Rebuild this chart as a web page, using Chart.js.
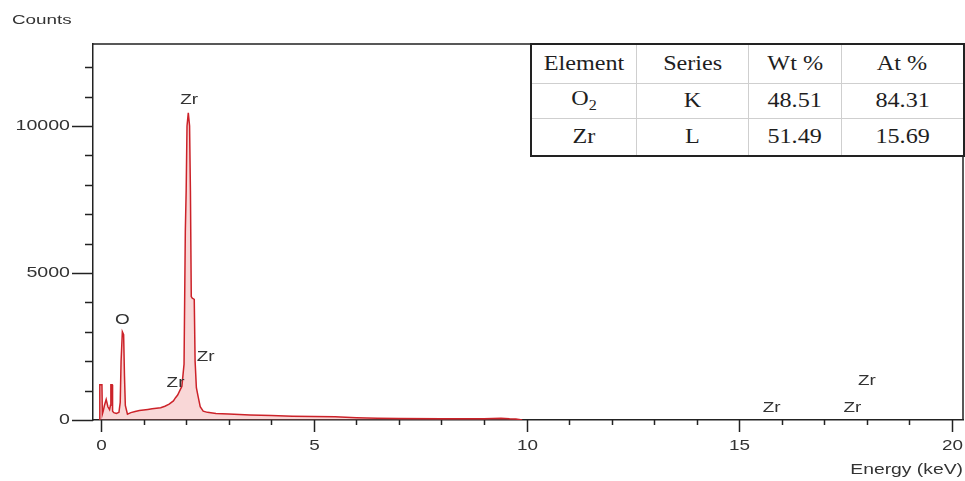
<!DOCTYPE html>
<html>
<head>
<meta charset="utf-8">
<script src="https://cdn.jsdelivr.net/npm/chart.js@4"></script>
<style>
    body { margin: 0; background: #fff; }
    #wrap { position: relative; width: 965px; height: 481px; }
    #resultTable {
        position: absolute; left: 530px; top: 43px;
        border-collapse: collapse; background: #fff;
        font-family: 'Liberation Serif', 'Times New Roman', serif;
        font-size: 21px; color: #1e1e1e;
        border: 2px solid #222;
    }
    #resultTable td { border: 1px solid #cfcfcf; text-align: center; padding: 0; }
    #resultTable span { display: inline-block; transform: scaleX(1.15); }
    #resultTable sub { font-size: 14px; }
</style>
</head>
<body>
<div id="wrap">
    <canvas id="myChart" width="965" height="481"></canvas>
    <table id="resultTable"></table>
</div>
<script>
// Espectro EDS (energía en keV, cuentas)
const energy = [
    -0.04, -0.03, 0.02, 0.03, 0.05, 0.08, 0.12, 0.16, 0.20, 0.22, 0.23, 0.26, 0.27, 0.30,
    0.36, 0.42, 0.45, 0.47, 0.50, 0.53, 0.55, 0.57, 0.62, 0.70, 0.80, 0.90, 1.00,
    1.10, 1.20, 1.30, 1.40, 1.50, 1.60, 1.70, 1.75, 1.80, 1.85, 1.90, 1.95,
    1.98, 2.00, 2.02, 2.05, 2.08, 2.10, 2.12, 2.14, 2.19, 2.21, 2.24, 2.28,
    2.33, 2.40, 2.50, 2.70, 3.00, 3.50, 4.00, 4.50, 5.00, 5.50, 6.00, 6.50,
    7.00, 8.00, 9.00, 9.40, 9.60, 9.75, 9.90
]
const counts = [
    0, 1200, 1200, 200, 300, 500, 700, 450, 350, 500, 1200, 1200, 300, 250,
    220, 260, 600, 2000, 3000, 2900, 1500, 500, 200, 250, 290, 320, 340,
    360, 380, 400, 420, 470, 540, 650, 760, 850, 1000, 1150, 1900,
    6400, 7800, 10000, 10450, 10000, 7800, 4200, 4150, 4100, 2000, 1100, 800,
    450, 300, 260, 220, 200, 170, 150, 130, 120, 110, 80, 60,
    50, 40, 45, 60, 40, 30, 0
]

// Etiquetas de picos
const peakNames = ['Zr', 'O', 'Zr', 'Zr', 'Zr', 'Zr', 'Zr']
const peakEnergy = [2.07, 0.50, 1.75, 2.46, 15.76, 17.66, 18.0]
const peakCounts = [10880, 3400, 1260, 2140, 410, 410, 1310]

// Tabla de resultados
const tableHead = ['Element', 'Series', 'Wt %', 'At %']
const tableElements = ['O<sub>2</sub>', 'Zr']
const tableSeries = ['K', 'L']
const tableWt = ['48.51', '51.49']
const tableAt = ['84.31', '15.69']

// Ejes
const xMin = -0.19
const xMax = 20.26
const yMax = 12790
const yTickValues = [0, 1000, 2000, 3000, 4000, 5000, 6000, 7000, 8000, 9000, 10000, 11000, 12000]

const table = document.getElementById('resultTable')
const colWidths = [105, 112, 93, 123]
const rowHeights = [39, 35, 38]
const rows = [tableHead]
tableElements.forEach((el, i) => rows.push([el, tableSeries[i], tableWt[i], tableAt[i]]))
rows.forEach((row, r) => {
    const tr = document.createElement('tr')
    tr.style.height = rowHeights[r] + 'px'
    row.forEach((cell, c) => {
        const td = document.createElement('td')
        td.style.width = colWidths[c] + 'px'
        td.innerHTML = `<span>${cell}</span>`
        tr.appendChild(td)
    })
    table.appendChild(tr)
})

// Texto estirado en horizontal, como en la imagen original
function wideText(ctx, text, x, y, align, stretch) {
    ctx.save()
    ctx.translate(x, y)
    ctx.scale(stretch, 1)
    ctx.textAlign = align
    ctx.fillText(text, 0, 0)
    ctx.restore()
}

// Plugin: marcas de los ejes, etiquetas y títulos
const extrasPlugin = {
    id: 'extras',
    afterDraw(chart) {
        const { ctx, chartArea, scales } = chart
        const xs = scales.x
        const ys = scales.y
        ctx.save()
        // marco superior y derecho
        ctx.strokeStyle = '#222'
        ctx.lineWidth = 1.5
        ctx.beginPath()
        ctx.moveTo(chartArea.left, chartArea.top)
        ctx.lineTo(chartArea.right, chartArea.top)
        ctx.lineTo(chartArea.right, chartArea.bottom)
        ctx.stroke()

        ctx.fillStyle = '#333'
        ctx.font = '14px "Liberation Sans", Arial, sans-serif'
        ctx.textBaseline = 'middle'

        // eje x
        xs.ticks.forEach(t => {
            const px = Math.round(xs.getPixelForValue(t.value)) + 0.5
            const major = t.value % 5 === 0
            ctx.beginPath()
            ctx.moveTo(px, chartArea.bottom)
            ctx.lineTo(px, chartArea.bottom + (major ? 12 : 5))
            ctx.stroke()
            if (major) wideText(ctx, String(t.value), px, chartArea.bottom + 26, 'center', 1.35)
        })
        // eje y
        ys.ticks.forEach(t => {
            const py = Math.round(ys.getPixelForValue(t.value)) + 0.5
            const major = t.value % 5000 === 0
            ctx.beginPath()
            ctx.moveTo(chartArea.left, py)
            ctx.lineTo(chartArea.left - (major ? 21 : 8), py)
            ctx.stroke()
            if (major) wideText(ctx, String(t.value), chartArea.left - 23, py, 'right', 1.4)
        })

        // etiquetas de picos
        peakNames.forEach((name, i) => {
            wideText(ctx, name, xs.getPixelForValue(peakEnergy[i]), ys.getPixelForValue(peakCounts[i]), 'center', 1.35)
        })

        // títulos
        ctx.font = '13px "Liberation Sans", Arial, sans-serif'
        wideText(ctx, 'Counts', 12, 20, 'left', 1.45)
        ctx.font = '14px "Liberation Sans", Arial, sans-serif'
        wideText(ctx, 'Energy (keV)', 963, 470, 'right', 1.38)
        ctx.restore()
    },
}

const ctx = document.getElementById('myChart')

// eslint-disable-next-line no-new, no-undef
new Chart(ctx, {
    type: 'line',
    data: {
        datasets: [
            {
                data: energy.map((e, i) => ({ x: e, y: counts[i] })),
                borderColor: '#cc2229',
                borderWidth: 1.5,
                backgroundColor: 'rgba(235, 110, 110, 0.28)',
                fill: 'origin',
                pointRadius: 0,
                tension: 0,
            },
        ],
    },
    options: {
        responsive: false,
        animation: false,
        layout: { padding: { top: 44, right: 2, left: 0, bottom: 0 } },
        plugins: {
            legend: { display: false },
            tooltip: { enabled: false },
        },
        scales: {
            x: {
                type: 'linear',
                min: xMin,
                max: xMax,
                afterFit: scale => { scale.height = 61 },
                grid: { display: false },
                border: { display: true, color: '#222', width: 1.5 },
                ticks: { display: false, stepSize: 1, includeBounds: false, autoSkip: false },
            },
            y: {
                min: 0,
                max: yMax,
                afterFit: scale => { scale.width = 93 },
                afterBuildTicks: scale => { scale.ticks = yTickValues.map(v => ({ value: v })) },
                grid: { display: false },
                border: { display: true, color: '#222', width: 1.5 },
                ticks: { display: false, autoSkip: false },
            },
        },
    },
    plugins: [extrasPlugin],
})
</script>
</body>
</html>
